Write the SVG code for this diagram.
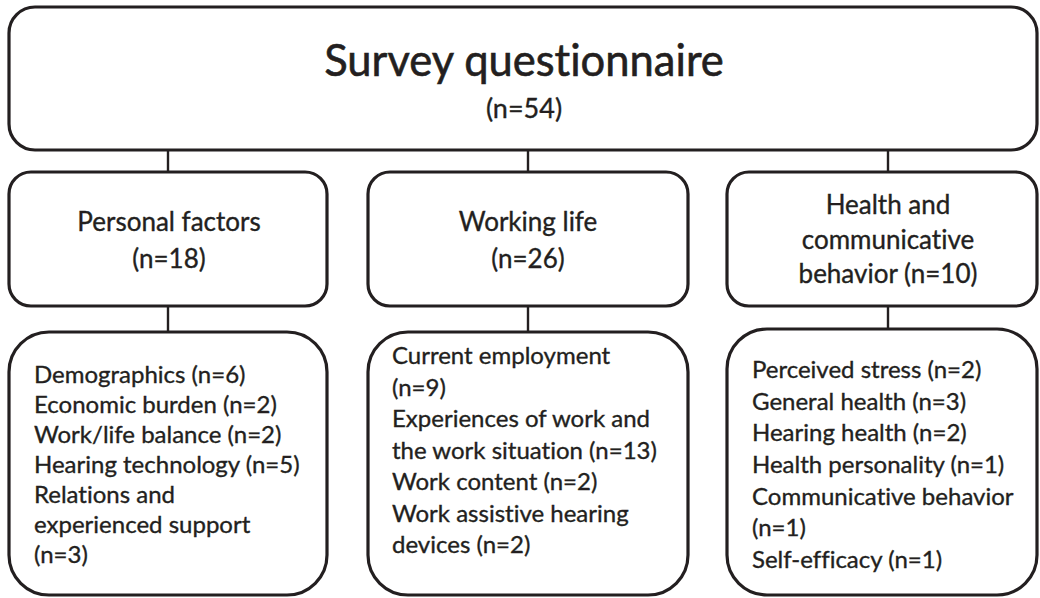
<svg xmlns="http://www.w3.org/2000/svg" width="1040" height="598" viewBox="0 0 1040 598">
<style>
.box{fill:#fff;stroke:#231f20;stroke-width:3.2}
.ln{stroke:#231f20;stroke-width:2.4;fill:none}
text{font-family:Lato,"Open Sans","Liberation Sans",sans-serif;fill:#231f20;stroke:#231f20;stroke-width:0.35;font-variant-ligatures:none}
.t1{font-size:43.5px;text-anchor:middle;stroke-width:0.6}
.t2{font-size:26px;text-anchor:middle}
.t3{font-size:24px}
</style>
<rect width="1040" height="598" fill="#fff"/>
<g id="connectors">
<line class="ln" x1="168" y1="150" x2="168" y2="172"/>
<line class="ln" x1="528" y1="150" x2="528" y2="172"/>
<line class="ln" x1="888" y1="150" x2="888" y2="172"/>
<line class="ln" x1="168" y1="306" x2="168" y2="332"/>
<line class="ln" x1="528" y1="306" x2="528" y2="332"/>
<line class="ln" x1="888" y1="306" x2="888" y2="329"/>
</g>
<g id="survey">
<rect class="box" x="9" y="7" width="1028" height="143" rx="26"/>
<text class="t1" x="524" y="76">Survey questionnaire</text>
<text class="t2" x="524" y="118" style="font-size:27px">(n=54)</text>
</g>
<g id="personal">
<rect class="box" x="9" y="172" width="318" height="134" rx="22"/>
<text class="t2" x="169" y="231">Personal factors</text>
<text class="t2" x="169" y="268">(n=18)</text>
</g>
<g id="working">
<rect class="box" x="368" y="172" width="320" height="134" rx="22"/>
<text class="t2" x="528" y="231">Working life</text>
<text class="t2" x="528" y="268">(n=26)</text>
</g>
<g id="health">
<rect class="box" x="727" y="172" width="310" height="134" rx="22"/>
<text class="t2" x="888" y="214">Health and</text>
<text class="t2" x="888" y="249">communicative</text>
<text class="t2" x="888" y="283">behavior (n=10)</text>
</g>
<g id="personal-items">
<rect class="box" x="9" y="332" width="318" height="263" rx="40"/>
<text class="t3" x="34" y="383">Demographics (n=6)</text>
<text class="t3" x="34" y="413">Economic burden (n=2)</text>
<text class="t3" x="34" y="443">Work/life balance (n=2)</text>
<text class="t3" x="34" y="473">Hearing technology (n=5)</text>
<text class="t3" x="34" y="503">Relations and</text>
<text class="t3" x="34" y="533">experienced support</text>
<text class="t3" x="34" y="563">(n=3)</text>
</g>
<g id="working-items">
<rect class="box" x="368" y="332" width="320" height="263" rx="40"/>
<text class="t3" x="392" y="364">Current employment</text>
<text class="t3" x="392" y="395.5">(n=9)</text>
<text class="t3" x="392" y="427">Experiences of work and</text>
<text class="t3" x="392" y="458.5">the work situation (n=13)</text>
<text class="t3" x="392" y="490">Work content (n=2)</text>
<text class="t3" x="392" y="521.5">Work assistive hearing</text>
<text class="t3" x="392" y="553">devices (n=2)</text>
</g>
<g id="health-items">
<rect class="box" x="727" y="329" width="310" height="266" rx="40"/>
<text class="t3" x="752" y="378">Perceived stress (n=2)</text>
<text class="t3" x="752" y="409.7">General health (n=3)</text>
<text class="t3" x="752" y="441.3">Hearing health (n=2)</text>
<text class="t3" x="752" y="473">Health personality (n=1)</text>
<text class="t3" x="752" y="504.7">Communicative behavior</text>
<text class="t3" x="752" y="536.3">(n=1)</text>
<text class="t3" x="752" y="568">Self-efficacy (n=1)</text>
</g>
</svg>
